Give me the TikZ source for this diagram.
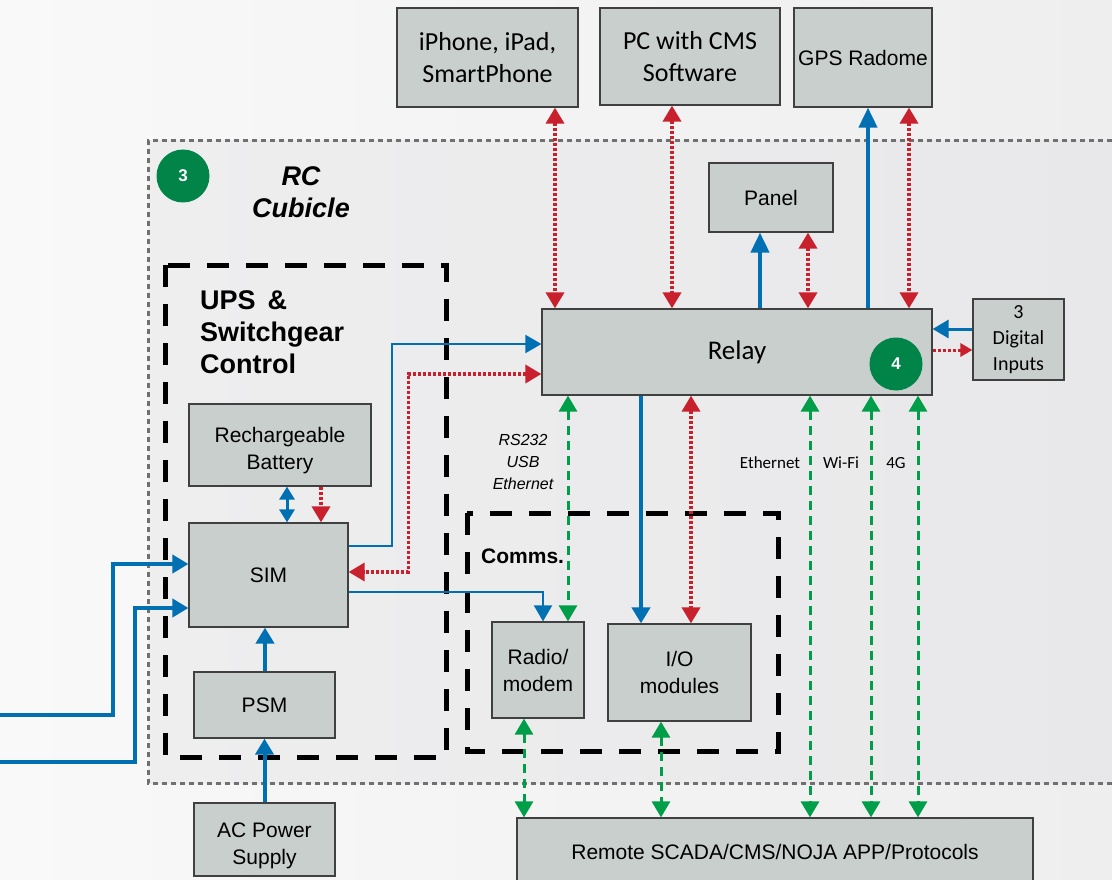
\documentclass[tikz,border=0pt]{standalone}
\usepackage{fontspec}
\setmainfont{Liberation Sans}
\newfontfamily\calibri{Carlito}
\usetikzlibrary{arrows.meta,calc}
\definecolor{boxgray}{RGB}{201,207,204}
\definecolor{nblue}{RGB}{0,112,178}
\definecolor{nred}{RGB}{200,32,44}
\definecolor{ngreen}{RGB}{0,158,72}
\definecolor{ndark}{RGB}{0,132,72}
\definecolor{bgleft}{RGB}{249,249,249}
\definecolor{bgright}{RGB}{238,238,239}
\definecolor{cubleft}{RGB}{238,238,239}
\definecolor{cubright}{RGB}{232,232,234}
\definecolor{cubline}{RGB}{112,112,112}
\newcommand{\fs}[2]{\fontsize{#1}{#2}\selectfont}

\begin{document}
\begin{tikzpicture}[x=1pt,y=-1pt,
    box/.style={draw=black!75,line width=1.2pt,fill=boxgray,align=center,inner sep=0pt,font=\fs{21}{27}},
    badge/.style={circle,fill=ndark,text=white,minimum size=53pt,inner sep=0pt,font=\bfseries\fs{17}{17}},
    bl/.style={nblue,line width=4pt},
    blmid/.style={nblue,line width=3pt},
    blthin/.style={nblue,line width=2pt},
    rd/.style={nred,line width=3.5pt,dash pattern=on 3pt off 2pt},
    gr/.style={ngreen,line width=3pt,dash pattern=on 9pt off 6pt},
    group/.style={draw=black,line width=5pt,dash pattern=on 22pt off 17pt},
    onetip/.style={-{Triangle[width=18pt,length=16pt]}},
    twotip/.style={{Triangle[width=18pt,length=16pt]}-{Triangle[width=18pt,length=16pt]}},
    shorttwotip/.style={{Triangle[width=15pt,length=13pt]}-{Triangle[width=15pt,length=13pt]}},
    longtip/.style={-{Triangle[width=18pt,length=20pt]}},
    smalltip/.style={-{Triangle[width=13pt,length=12pt]}},
  ]
  \useasboundingbox (0,0) rectangle (1112,880);
  \shade[left color=bgleft,right color=bgright] (0,0) rectangle (1112,880);

  % cubicle and groups
  \shade[left color=cubleft,right color=cubright] (148,141) rectangle (1130,783);
  \draw[cubline,line width=3pt,dash pattern=on 5pt off 4pt] (1130,141) -- (148,141) -- (148,783) -- (1130,783);
  \draw[group] (165,265) rectangle (446,757);
  \draw[group] (467,513) rectangle (778,751);

  \node[badge] (three) at (183,176) {3};
  \node[anchor=north,align=center,font=\bfseries\itshape\fs{27}{32}] (cubicle) at (301,163) {RC\\Cubicle};
  \node[anchor=north west,align=left,inner sep=0pt,font=\bfseries\fs{27}{32}] (ups) at (200,290) {UPS \,\&\\Switchgear\\Control};
  \node[anchor=base west,inner sep=0pt,font=\bfseries\fs{21}{25}] (comms) at (481,563) {Comms.};

  % boxes
  \node[box,minimum width=181pt,minimum height=99pt,font=\calibri\fs{26}{32}] (phone) at (487.5,57.5) {iPhone, iPad,\\SmartPhone};
  \node[box,minimum width=180pt,minimum height=97pt,font=\calibri\fs{26}{32}] (pc) at (690,56.5) {PC with CMS\\Software};
  \node[box,minimum width=138pt,minimum height=99pt] (gps) at (863,57.5) {GPS Radome};
  \node[box,minimum width=124pt,minimum height=69pt] (panel) at (771,197.5) {Panel};
  \node[box,minimum width=390pt,minimum height=86pt,font=\calibri\fs{27}{32}] (relay) at (737,352) {Relay};
  \node[badge] (four) at (896,364) {4};
  \node[box,minimum width=91pt,minimum height=81pt,font=\calibri\fs{20}{26}] (dig) at (1018.5,339.5) {3\\Digital\\Inputs};
  \node[box,minimum width=182pt,minimum height=82pt] (batt) at (280,445) {\rule{0pt}{27pt}Rechargeable\\Battery};
  \node[box,minimum width=159pt,minimum height=104pt] (sim) at (268.5,575) {SIM};
  \node[box,minimum width=141pt,minimum height=66pt] (psm) at (264.5,705) {PSM};
  \node[box,minimum width=141pt,minimum height=73pt] (ac) at (264.5,839.5) {\rule{0pt}{27pt}AC Power\\Supply};
  \node[box,minimum width=92pt,minimum height=96pt] (radio) at (538,670) {Radio/\\modem};
  \node[box,minimum width=143pt,minimum height=97pt] (io) at (679.5,672.5) {I/O\\modules};
  \node[box,minimum width=516pt,minimum height=68pt] (scada) at (775,852) {Remote SCADA/CMS/NOJA APP/Protocols};

  % link labels
  \node[align=center,font=\itshape\fs{16}{22}] (serial) at (523,462) {RS232\\USB\\Ethernet};
  \node[font=\calibri\fs{17}{20}] (eth) at (770,463) {Ethernet};
  \node[font=\calibri\fs{17}{20}] (wifi) at (841,463) {Wi-Fi};
  \node[font=\calibri\fs{17}{20}] (fourg) at (896,463) {4G};

  % external inputs
  \coordinate (in1) at (0,715);
  \coordinate (in2) at (0,762);

  % top devices
  \path[rd,twotip] (phone.south -| 555,0) edge (relay.north -| 555,0);
  \path[rd,twotip] (pc.south -| 672,0) edge (relay.north -| 672,0);
  \path[bl,longtip] (relay.north -| 760,0) edge (panel.south -| 760,0);
  \path[rd,twotip] (panel.south -| 808,0) edge (relay.north -| 808,0);
  \path[bl,longtip] (relay.north -| 868,0) edge (gps.south -| 868,0);
  \path[rd,twotip] (gps.south -| 909,0) edge (relay.north -| 909,0);
  \path[blmid,onetip] (dig.west |- 0,329) edge (relay.east |- 0,329);
  \path[rd,line width=3pt,smalltip] (relay.east |- 0,350) edge (dig.west |- 0,350);

  % UPS side
  \path[blmid,shorttwotip] (batt.south -| 287,0) edge (sim.north -| 287,0);
  \path[rd,onetip] (batt.south -| 321,0) edge (sim.north -| 321,0);
  \path[bl,onetip] (psm.north -| 265,0) edge (sim.south -| 265,0);
  \path[bl,onetip] (ac.north) edge (psm.south);
  \draw[bl,onetip] (in1) -- ++(113,0) |- (sim.west |- 0,564);
  \draw[bl,onetip] (in2) -- ++(135,0) |- (sim.west |- 0,608);
  \draw[blthin,onetip] (sim.east |- 0,546) -- ++(43,0) |- (relay.west |- 0,344);
  \draw[rd,twotip] (relay.west |- 0,374) -- ++(-133,0) |- (sim.east |- 0,572);
  \draw[blthin,onetip] (sim.east |- 0,592) -| (radio.north -| 543,0);

  % comms
  \path[gr,twotip] (relay.south -| 568,0) edge (radio.north -| 568,0);
  \path[bl,onetip] (relay.south -| 641,0) edge (io.north -| 641,0);
  \path[rd,twotip] (relay.south -| 691,0) edge (io.north -| 691,0);
  \path[gr,twotip] (radio.south -| 524,0) edge (scada.north -| 524,0);
  \path[gr,twotip] (io.south -| 661,0) edge (scada.north -| 661,0);
  \path[gr,twotip] (relay.south -| 810,0) edge (scada.north -| 810,0);
  \path[gr,twotip] (relay.south -| 871,0) edge (scada.north -| 871,0);
  \path[gr,twotip] (relay.south -| 918,0) edge (scada.north -| 918,0);
\end{tikzpicture}
\end{document}
